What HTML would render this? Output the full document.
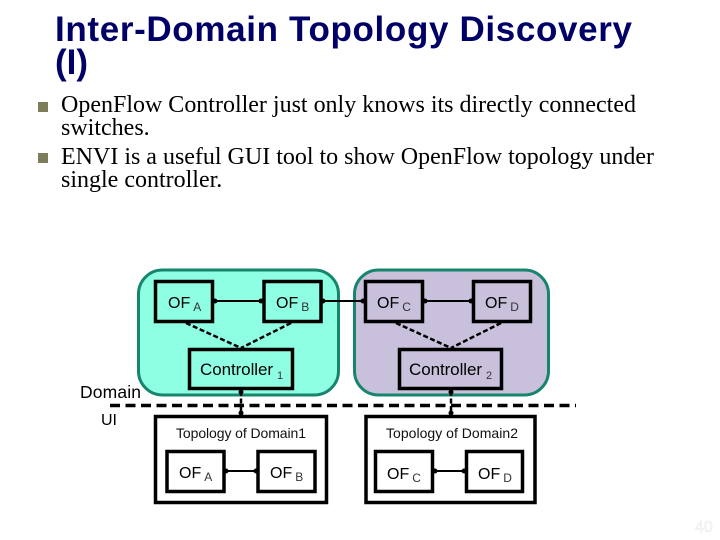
<!DOCTYPE html>
<html><head><meta charset="utf-8"><style>
html,body{margin:0;padding:0;background:#fff}
svg{display:block}
.t{font-family:"Liberation Sans",sans-serif;font-weight:bold;fill:#000066;font-size:35px}
.b{font-family:"Liberation Serif",serif;fill:#000;font-size:24px}
.s{font-family:"Liberation Sans",sans-serif;fill:#000;font-size:16px}
.c{font-family:"Liberation Sans",sans-serif;fill:#000;font-size:17px}
.u{font-family:"Liberation Sans",sans-serif;fill:#111;font-size:14px}
.sub{font-size:12px;fill:#333}
</style></head><body>
<svg width="720" height="540" viewBox="0 0 720 540" xmlns="http://www.w3.org/2000/svg">
<text class="t" x="55" y="41" textLength="577" lengthAdjust="spacing">Inter-Domain Topology Discovery</text>
<text class="t" x="55" y="74">(I)</text>
<rect x="38" y="102" width="10" height="10" fill="#7d7d5c"/>
<rect x="38" y="153" width="10" height="10" fill="#7d7d5c"/>
<text class="b" x="61" y="112" textLength="575" lengthAdjust="spacing">OpenFlow Controller just only knows its directly connected</text>
<text class="b" x="61" y="135">switches.</text>
<text class="b" x="61" y="164" textLength="593" lengthAdjust="spacing">ENVI is a useful GUI tool to show OpenFlow topology under</text>
<text class="b" x="61" y="187">single controller.</text>

<rect x="138.500" y="270" width="200" height="125" rx="24" fill="#8fffe3" stroke="#17846c" stroke-width="3"/>
<rect x="354.500" y="270" width="194" height="125" rx="24" fill="#c9c0dc" stroke="#17846c" stroke-width="3"/>

<g fill="none" stroke="#000" stroke-width="3.500">
<rect x="155.500" y="281.500" width="57" height="40"/>
<rect x="264" y="281.500" width="57" height="40"/>
<rect x="189.500" y="349.500" width="103" height="39"/>
<rect x="365.500" y="281.500" width="57" height="40"/>
<rect x="473.500" y="281.500" width="57" height="40"/>
<rect x="399.500" y="349.500" width="102" height="39"/>
<rect x="155.500" y="416.500" width="171" height="86"/>
<rect x="366" y="416.500" width="169" height="86"/>
<rect x="167" y="451.500" width="57" height="40"/>
<rect x="258" y="451.500" width="57" height="40"/>
<rect x="375.500" y="451.500" width="57" height="40"/>
<rect x="466.500" y="451.500" width="56" height="40"/>
</g>

<g stroke="#000" stroke-width="2" fill="#000">
<line x1="214" y1="301" x2="262" y2="301"/>
<line x1="322" y1="301" x2="365" y2="301"/>
<line x1="424" y1="301" x2="472" y2="301"/>
<line x1="225" y1="471" x2="257" y2="471"/>
<line x1="434" y1="471" x2="465" y2="471"/>
</g>
<g fill="#000">
<circle cx="215" cy="301" r="2.500"/><circle cx="261" cy="301" r="2.500"/>
<circle cx="323" cy="301" r="2.500"/><circle cx="363" cy="301" r="2.500"/>
<circle cx="425" cy="301" r="2.500"/><circle cx="471" cy="301" r="2.500"/>
<circle cx="226" cy="471" r="2.500"/><circle cx="256" cy="471" r="2.500"/>
<circle cx="435" cy="471" r="2.500"/><circle cx="464" cy="471" r="2.500"/>
<circle cx="241" cy="392" r="2.500"/><circle cx="241" cy="413" r="2.500"/>
<circle cx="451" cy="392" r="2.500"/><circle cx="451" cy="413" r="2.500"/>
</g>

<g stroke="#000" stroke-width="2.500" stroke-dasharray="5 2.500" fill="none">
<line x1="186" y1="323" x2="241" y2="348"/>
<line x1="291" y1="323" x2="241" y2="348"/>
<line x1="396" y1="323" x2="451" y2="348"/>
<line x1="501" y1="323" x2="451" y2="348"/>
<line x1="241" y1="391" x2="241" y2="415"/>
<line x1="451" y1="391" x2="451" y2="415"/>
</g>
<line x1="110" y1="405.500" x2="576" y2="405.500" stroke="#000" stroke-width="3.500" stroke-dasharray="10 5.500"/>

<text class="s" x="168" y="308">OF<tspan class="sub" dy="3" dx="3">A</tspan></text>
<text class="s" x="276" y="308">OF<tspan class="sub" dy="3" dx="3">B</tspan></text>
<text class="s" x="377" y="308">OF<tspan class="sub" dy="3" dx="3">C</tspan></text>
<text class="s" x="485" y="308">OF<tspan class="sub" dy="3" dx="3">D</tspan></text>
<text class="c" x="200" y="375" textLength="73" lengthAdjust="spacing">Controller</text>
<text class="sub" x="277" y="379" style="font-family:'Liberation Sans',sans-serif;font-size:11px">1</text>
<text class="c" x="409" y="375" textLength="73" lengthAdjust="spacing">Controller</text>
<text class="sub" x="486" y="379" style="font-family:'Liberation Sans',sans-serif;font-size:11px">2</text>
<text class="c" x="80" y="398" textLength="61" lengthAdjust="spacing" style="font-size:17.500px">Domain</text>
<text class="s" x="101" y="425">UI</text>
<text class="u" x="176" y="438" textLength="130" lengthAdjust="spacing">Topology of Domain1</text>
<text class="u" x="386" y="438" textLength="132" lengthAdjust="spacing">Topology of Domain2</text>
<text class="s" x="179" y="478">OF<tspan class="sub" dy="3" dx="3">A</tspan></text>
<text class="s" x="270" y="478">OF<tspan class="sub" dy="3" dx="3">B</tspan></text>
<text class="s" x="387" y="479">OF<tspan class="sub" dy="3" dx="3">C</tspan></text>
<text class="s" x="478" y="479">OF<tspan class="sub" dy="3" dx="3">D</tspan></text>
<text x="695" y="532" font-family="Liberation Sans, sans-serif" font-size="16" fill="#f7f7f7" stroke="#e4e4e4" stroke-width="0.300">40</text>
</svg>
</body></html>
